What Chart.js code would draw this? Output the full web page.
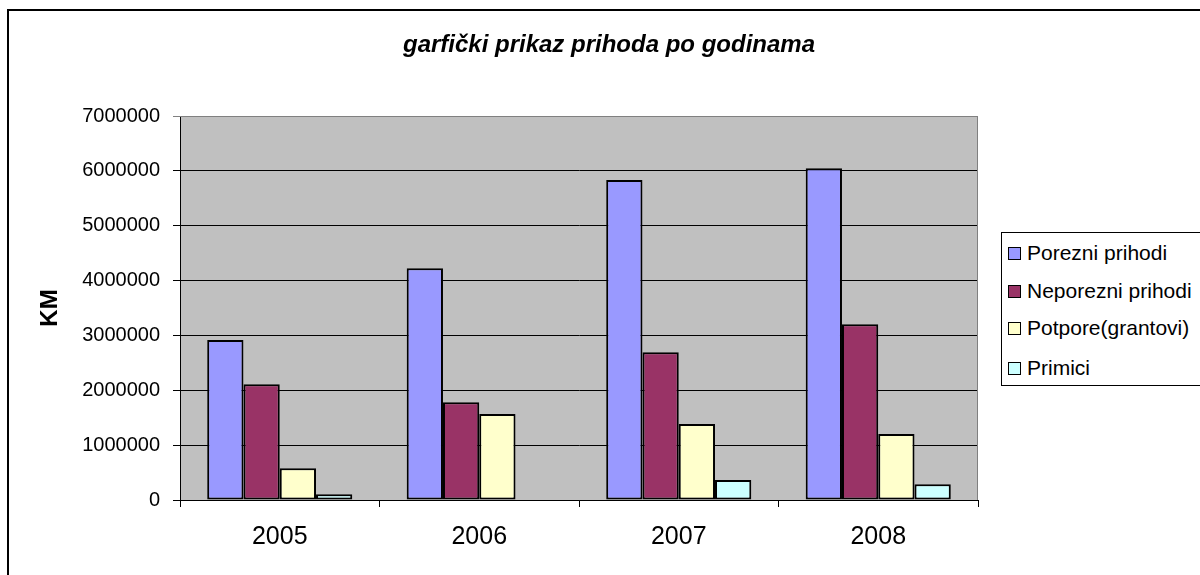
<!DOCTYPE html>
<html>
<head>
<meta charset="utf-8">
<script src="https://cdn.jsdelivr.net/npm/chart.js@4/dist/chart.umd.min.js"></script>
<style>
  html, body { margin: 0; padding: 0; background: #fff; overflow: hidden; }
  #wrap { position: relative; width: 1200px; height: 575px; }
  #frame { position: absolute; left: 7px; top: 9px; width: 1300px; height: 700px; border: 2px solid #000; box-sizing: border-box; }
  #c { position: absolute; left: 0; top: 0; }
  #legend { position: absolute; left: 1001px; top: 232px; width: 230px; height: 154px; border: 1px solid #000; box-sizing: border-box; background: #fff;
            font-family: "Liberation Sans", Arial, sans-serif; font-size: 21px; color: #000; }
  .item { position: absolute; left: 6px; height: 24px; line-height: 24px; white-space: nowrap; }
  .sw { display: inline-block; width: 11px; height: 11px; border: 1.5px solid #000; vertical-align: middle; margin-right: 6px; position: relative; top: -1px; }
</style>
</head>
<body>
<div id="wrap">
  <div id="frame"></div>
  <canvas id="c" width="1200" height="575"></canvas>
  <div id="legend"></div>
</div>
<script>
const chartTitle = "garfički prikaz prihoda po godinama";
const yAxisTitle = "KM";
const categories = ["2005", "2006", "2007", "2008"];
const seriesNames = ["Porezni prihodi", "Neporezni prihodi", "Potpore(grantovi)", "Primici"];
const porezniPrihodi = [2917000, 4223000, 5833000, 6046000];
const neporezniPrihodi = [2109000, 1781000, 2692000, 3203000];
const potpore = [578000, 1568000, 1385000, 1203000];
const primici = [104000, null, 365000, 286000];
const yTicks = [0, 1000000, 2000000, 3000000, 4000000, 5000000, 6000000, 7000000];

const seriesValues = [porezniPrihodi, neporezniPrihodi, potpore, primici];
const seriesColors = ["#9999FF", "#993366", "#FFFFCC", "#CCFFFF"];

const FONT = '"Liberation Sans", Arial, sans-serif';

const plotBg = {
  id: 'plotBg',
  beforeDraw(chart) {
    const {ctx, chartArea: a} = chart;
    ctx.save();
    ctx.fillStyle = '#C0C0C0';
    ctx.fillRect(a.left, a.top, a.right - a.left, a.bottom - a.top);
    ctx.restore();
  },
  afterDatasetsDraw(chart) {
    const {ctx, chartArea: a} = chart;
    ctx.save();
    ctx.strokeStyle = '#808080';
    ctx.lineWidth = 1;
    ctx.beginPath();
    ctx.moveTo(a.left, a.top + 0.5);
    ctx.lineTo(a.right - 0.5, a.top + 0.5);
    ctx.lineTo(a.right - 0.5, a.bottom);
    ctx.stroke();
    ctx.restore();
  },
  afterDraw(chart) {
    const {ctx} = chart;
    ctx.save();
    ctx.font = 'italic bold 24px ' + FONT;
    ctx.fillStyle = '#000';
    ctx.textAlign = 'center';
    ctx.textBaseline = 'alphabetic';
    ctx.fillText(chartTitle, 609, 52);
    ctx.restore();
  }
};

new Chart(document.getElementById('c'), {
  type: 'bar',
  data: {
    labels: categories,
    datasets: seriesNames.map((name, i) => ({
      label: name,
      data: seriesValues[i],
      backgroundColor: seriesColors[i],
      borderColor: '#000',
      borderWidth: 2,
      borderSkipped: false,
      categoryPercentage: 4 / 5.5,
      barPercentage: 1.0
    }))
  },
  options: {
    responsive: false,
    animation: false,
    devicePixelRatio: 1,
    layout: { padding: { left: 10, top: 116, right: 222, bottom: 0 } },
    plugins: {
      legend: { display: false },
      title: { display: false },
      tooltip: { enabled: false }
    },
    scales: {
      x: {
        offset: true,
        grid: { display: true, drawOnChartArea: false, drawTicks: true, tickLength: 7, offset: true, color: '#000', lineWidth: 1 },
        border: { display: true, color: '#000', width: 1 },
        ticks: { font: { family: FONT, size: 25 }, color: '#000', padding: 15 },
        afterFit(scale) { scale.height = 75; }
      },
      y: {
        min: 0,
        max: 7000000,
        afterBuildTicks(scale) { scale.ticks = yTicks.map(v => ({ value: v })); },
        grid: { color: (c) => (c.tick && c.tick.value === 7000000) ? '#808080' : '#000', lineWidth: 1, tickLength: 7, drawTicks: true },
        border: { display: true, color: '#000', width: 1 },
        ticks: { font: { family: FONT, size: 20 }, color: '#000', padding: 13, callback: (v) => String(v) },
        title: { display: true, text: yAxisTitle, font: { family: FONT, size: 24, weight: 'bold' }, color: '#000', padding: { top: 25.6, bottom: 0 } },
        afterFit(scale) { scale.width = 170; }
      }
    }
  },
  plugins: [plotBg]
});

const legendEl = document.getElementById('legend');
const itemY = [8, 46, 83, 123];
seriesNames.forEach((name, i) => {
  const d = document.createElement('div');
  d.className = 'item';
  d.style.top = itemY[i] + 'px';
  const sw = document.createElement('span');
  sw.className = 'sw';
  sw.style.background = seriesColors[i];
  d.appendChild(sw);
  d.appendChild(document.createTextNode(name));
  legendEl.appendChild(d);
});
</script>
</body>
</html>
